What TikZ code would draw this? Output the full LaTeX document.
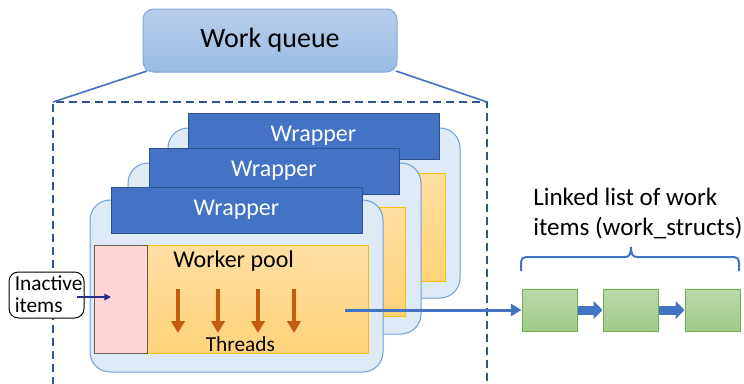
\documentclass[tikz,border=0pt]{standalone}
\usepackage{fontspec}
\setmainfont{Carlito}
\usetikzlibrary{fit,arrows.meta}
\definecolor{wqtop}{HTML}{B6CEEB}
\definecolor{wqbot}{HTML}{99BCE4}
\definecolor{wqborder}{HTML}{7FA7D9}
\definecolor{blueline}{HTML}{4472C4}
\definecolor{dashcol}{HTML}{2F5597}
\definecolor{panelfill}{HTML}{DEEBF7}
\definecolor{panelborder}{HTML}{6FA0D6}
\definecolor{wrapfill}{HTML}{4472C4}
\definecolor{wrapborder}{HTML}{2F528F}
\definecolor{pooltop}{HTML}{FFDFA2}
\definecolor{poolbot}{HTML}{FFD37A}
\definecolor{poolborder}{HTML}{FFC000}
\definecolor{pinkfill}{HTML}{FFD5D5}
\definecolor{pinkborder}{HTML}{6B5B55}
\definecolor{greentop}{HTML}{B9DAAA}
\definecolor{greenbot}{HTML}{A0CB8B}
\definecolor{greenborder}{HTML}{70AD47}
\definecolor{threadcol}{HTML}{C55A11}
\definecolor{navy}{HTML}{262E8C}
\begin{document}
\begin{tikzpicture}[x=0.75pt,y=-0.75pt,
  wq/.style={draw=wqborder, line width=0.75pt, rounded corners=8pt, top color=wqtop, bottom color=wqbot, inner sep=0pt},
  panel/.style={draw=panelborder, line width=0.75pt, fill=panelfill, rounded corners=15pt, inner sep=0pt},
  wrapper/.style={draw=wrapborder, line width=0.75pt, fill=wrapfill, inner sep=0pt},
  pool/.style={draw=poolborder, line width=0.75pt, top color=pooltop, bottom color=poolbot, inner sep=0pt},
  inactbox/.style={draw=pinkborder, fill=pinkfill, line width=0.75pt, inner sep=0pt},
  item/.style={draw=greenborder, line width=0.75pt, top color=greentop, bottom color=greenbot, inner sep=0pt},
  notebox/.style={draw=black, fill=white, rounded corners=7pt, line width=0.75pt, inner sep=0pt},
  wqline/.style={draw=blueline, line width=1.2pt},
  dashbox/.style={draw=dashcol, line width=1.5pt, dash pattern=on 6pt off 3.75pt},
  thread/.style={draw=threadcol, line width=3pt, -{Triangle[length=9pt,width=10pt]}},
  bigarrow/.style={draw=blueline, line width=2.25pt, -{Triangle[length=8pt,width=9pt]}},
  blockarrow/.style={draw=blueline, line width=6.75pt, -{Triangle[length=6.75pt,width=13.5pt]}},
  notearrow/.style={draw=navy, line width=1pt, -{Triangle[length=5pt,width=5pt]}},
  bracecol/.style={draw=blueline, line width=1.5pt},
  wrtext/.style={text=white, font=\fontsize{18}{21}\selectfont, inner sep=0pt},
  bigtext/.style={font=\fontsize{21}{25}\selectfont, inner sep=0pt},
  midtext/.style={font=\fontsize{18}{21}\selectfont, inner sep=0pt},
  smalltext/.style={font=\fontsize{16}{19}\selectfont, inner sep=0pt},
  listtext/.style={font=\fontsize{18.8}{22}\selectfont, inner sep=0pt}]
\useasboundingbox (0,0) rectangle (744,383);
\fill[white] (0,0) rectangle (744,383);

% dashed outline and work queue
\coordinate (dBL) at (53,385);
\coordinate (dTL) at (53,102);
\coordinate (dTR) at (487,102);
\coordinate (dBR) at (487,385);
\draw[dashbox] (dBL) -- (dTL) -- (dTR) -- (dBR);
\node[wq, fit={(143,9)(397,72)}] (wq) {};
\node[bigtext] (wqt) at (wq) {Work queue};
\coordinate (qL) at (147,71);
\coordinate (qR) at (396,71);
\draw[wqline] (qL) -- (dTL);
\draw[wqline] (qR) -- (dTR);

% back unit
\node[panel, fit={(168,128)(460,298)}] (p3) {};
\node[pool, fit={(300,173)(445,281)}] (o3) {};
\node[wrapper, fit={(188,113)(439,159)}] (w3) {};
\node[wrtext] (w3t) at (w3) {Wrapper};

% middle unit
\node[panel, fit={(128,163)(421,334)}] (p2) {};
\node[pool, fit={(260,207)(405,316)}] (o2) {};
\node[wrapper, fit={(149,148)(399,194)}] (w2) {};
\node[wrtext] (w2t) at (w2) {Wrapper};

% front unit
\node[panel, fit={(90,200)(383,372)}] (p1) {};
\node[pool, fit={(94,245)(368,353)}] (o1) {};
\node[inactbox, fit={(94,245)(147,353)}] (ia) {};
\node[wrapper, fit={(111,187)(362,233)}] (w1) {};
\node[wrtext] (w1t) at (w1) {Wrapper};
\node[midtext, anchor=base west] (wp) at (173,267) {Worker pool};
\node[smalltext, anchor=base west] (thr) at (205.5,351) {Threads};

% threads
\foreach \i/\x in {1/178,2/218,3/258,4/294}{
  \coordinate (ts\i) at (\x,289);
  \coordinate (te\i) at (\x,333);
  \draw[thread] (ts\i) -- (te\i);
}

% inactive items note
\node[notebox, fit={(9,272)(84,318)}] (note) {};
\node[smalltext, anchor=base west] (n1) at (14.5,290) {Inactive};
\node[smalltext, anchor=base west] (n2) at (14.5,312.5) {items};
\coordinate (na) at (77,297);
\coordinate (nb) at (111,297);
\draw[notearrow] (na) -- (nb);

% linked list
\node[item, fit={(522,289)(577,331)}] (g1) {};
\node[item, fit={(603,289)(658,331)}] (g2) {};
\node[item, fit={(685,289)(740,331)}] (g3) {};
\draw[blockarrow] (g1.east) -- (g2.west);
\draw[blockarrow] (g2.east) -- (g3.west);
\coordinate (src) at (345,310);
\draw[bigarrow] (src) -- (g1.west);

% brace
\coordinate (bL) at (521,271);
\coordinate (bR) at (739,271);
\draw[bracecol] (bL) -- (521,262) .. controls (521,259) and (523,257) .. (526,257) -- (625,257)
  .. controls (629.5,257) and (631,254) .. (631,247)
  .. controls (631,254) and (632.5,257) .. (637,257) -- (734,257)
  .. controls (737,257) and (739,259) .. (739,262) -- (bR);
\node[listtext, anchor=base west] (l1) at (533,205) {Linked list of work};
\node[listtext, anchor=base west] (l2) at (533,235) {items (work\_structs)};
\end{tikzpicture}
\end{document}
